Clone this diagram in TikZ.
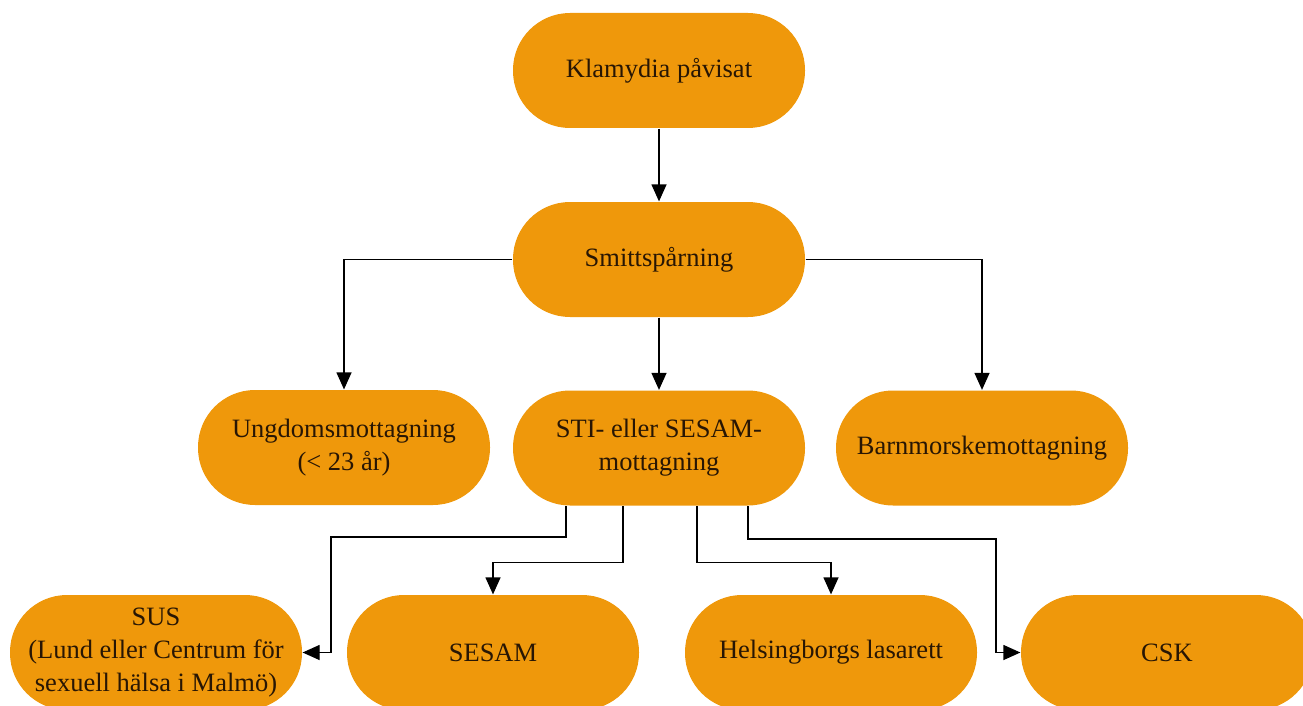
\documentclass[tikz,border=0pt]{standalone}
\usepackage{fontspec}
\setmainfont{Liberation Serif}
\usetikzlibrary{arrows.meta}
\definecolor{boxorange}{RGB}{239,152,11}
\definecolor{boxtext}{RGB}{40,22,4}

\begin{document}
\begin{tikzpicture}
  [x=1pt,y=-1pt,>={Triangle[length=17pt,width=15pt]},line width=1.2pt,
   every node/.style={rectangle,rounded corners=57pt,fill=boxorange,
     minimum width=292pt,minimum height=115pt,align=center,text=boxtext,
     font=\fontsize{26.5}{33}\selectfont}]
  \useasboundingbox (0,0) rectangle (1303,706);
  \node (klam) at (659,70.5) {Klamydia påvisat};
  \node (smitt) at (659,259.5) {Smittspårning};
  \node (ungdom) at (344,447.5) {Ungdomsmottagning\\(< 23 år)};
  \node (sti) at (659,448) {STI- eller SESAM-\\mottagning};
  \node (barn) at (982,448) {Barnmorskemottagning};
  \node (sus) at (156,652.5) {SUS\\(Lund eller Centrum för\\sexuell hälsa i Malmö)};
  \node (sesam) at (493,652.5) {SESAM};
  \node (helsing) at (831,652.5) {Helsingborgs lasarett};
  \node (csk) at (1167,652.5) {CSK};
  \coordinate (susbend) at (331,537);
  \coordinate (cskbend) at (996,539);
  \foreach \from/\to in {klam/smitt,smitt/sti}
    \draw[->] (\from) -- (\to);
  \draw[->] (smitt.west) -| (ungdom.north);
  \draw[->] (smitt.east) -| (barn.north);
  \draw[->] ([xshift=-93pt]sti.south) |- (susbend) |- (sus.east);
  \draw[->] ([xshift=-36pt]sti.south) |- ([yshift=32pt]sesam.north) -- (sesam.north);
  \draw[->] ([xshift=38pt]sti.south) |- ([yshift=32pt]helsing.north) -- (helsing.north);
  \draw[->] ([xshift=89pt]sti.south) |- (cskbend) |- (csk.west);
\end{tikzpicture}
\end{document}
